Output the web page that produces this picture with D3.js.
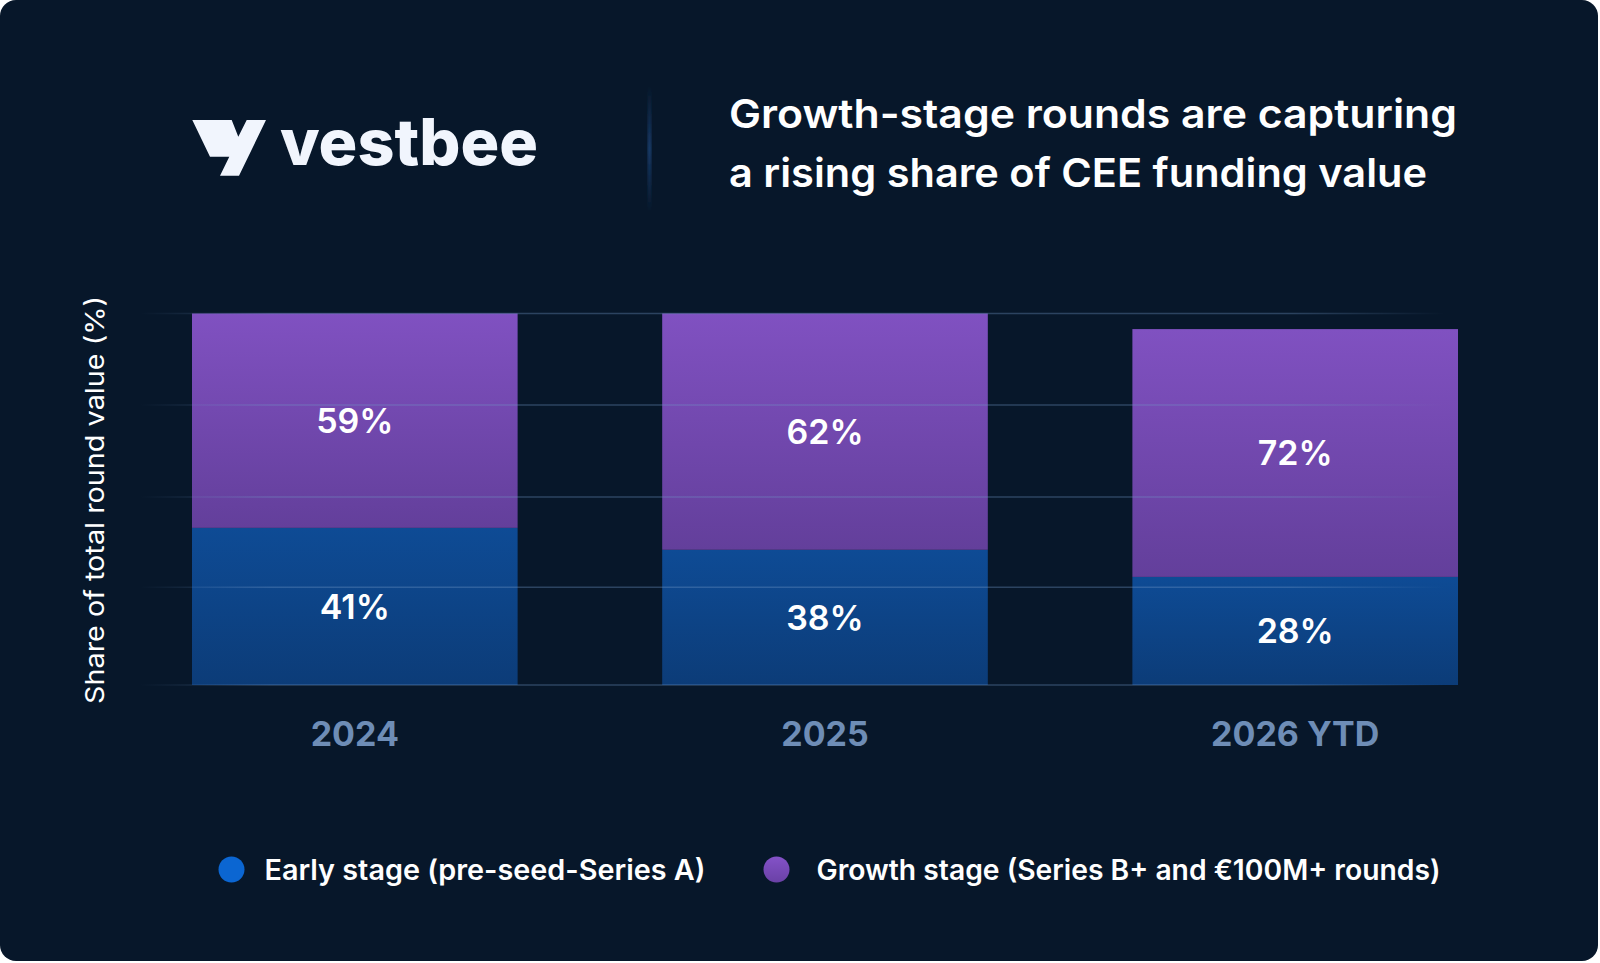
<!DOCTYPE html>
<html>
<head>
<meta charset="utf-8">
<script src="https://cdn.jsdelivr.net/npm/d3@7"></script>
<style>
  html, body { margin: 0; padding: 0; background: #ffffff; }
  svg { display: block; }
</style>
</head>
<body>
<svg id="chart" width="1600" height="963"></svg>
<script>
// ---- data ----
const categories = ["2024", "2025", "2026 YTD"];
const earlyShare = [42.3, 36.4, 29.1];      // bar heights (% of axis)
const growthShare = [57.7, 63.6, 66.7];
const earlyLabels = ["41%", "38%", "28%"];
const growthLabels = ["59%", "62%", "72%"];
const gridValues = [0, 26.3, 50.6, 75.4, 100];
const seriesNames = ["Early stage (pre-seed-Series A)", "Growth stage (Series B+ and €100M+ rounds)"];
const titleLines = ["Growth-stage rounds are capturing", "a rising share of CEE funding value"];
const yAxisTitle = "Share of total round value (%)";

const FONT = "Inter, 'Open Sans', sans-serif";
const svg = d3.select("#chart");
const defs = svg.append("defs");

// gradients
function vGrad(id, top, bottom) {
  const g = defs.append("linearGradient").attr("id", id).attr("x1", 0).attr("y1", 0).attr("x2", 0).attr("y2", 1);
  g.append("stop").attr("offset", "0%").attr("stop-color", top);
  g.append("stop").attr("offset", "100%").attr("stop-color", bottom);
}
vGrad("gPurple", "#8051c1", "#633f9b");
vGrad("gBlue", "#0e4b95", "#0c3c78");
vGrad("gLegPurple", "#8452c8", "#6a41a6");
const gl = defs.append("linearGradient").attr("id", "gGrid").attr("gradientUnits", "userSpaceOnUse")
  .attr("x1", 140).attr("y1", 0).attr("x2", 1445).attr("y2", 0);
gl.append("stop").attr("offset", "0%").attr("stop-color", "#6f95c4").attr("stop-opacity", 0);
gl.append("stop").attr("offset", "10%").attr("stop-color", "#6f95c4").attr("stop-opacity", 0.35);
gl.append("stop").attr("offset", "88%").attr("stop-color", "#6f95c4").attr("stop-opacity", 0.35);
gl.append("stop").attr("offset", "100%").attr("stop-color", "#6f95c4").attr("stop-opacity", 0);
const dv = defs.append("linearGradient").attr("id", "gDiv").attr("x1", 0).attr("y1", 0).attr("x2", 0).attr("y2", 1);
dv.append("stop").attr("offset", "0%").attr("stop-color", "#1e477e").attr("stop-opacity", 0);
dv.append("stop").attr("offset", "50%").attr("stop-color", "#1e477e").attr("stop-opacity", 1);
dv.append("stop").attr("offset", "100%").attr("stop-color", "#1e477e").attr("stop-opacity", 0);
defs.append("filter").attr("id", "blur").append("feGaussianBlur").attr("stdDeviation", 1.5);

// card background
svg.append("rect").attr("x", 0).attr("y", 0).attr("width", 1598).attr("height", 961)
  .attr("rx", 16).attr("fill", "#07172a");

// logo
const icon = [[192.3,120],[231.7,120],[238.3,136.7],[246.7,120],[266,120],[239,175.7],[220,175.7],[229.3,156.7],[210,156.7]];
svg.append("path").attr("d", d3.line()(icon) + "Z").attr("fill", "#f1f5fd");
svg.append("text").attr("x", 280).attr("y", 165).text("vestbee")
  .attr("font-family", FONT).attr("font-weight", 800).attr("font-size", 64)
  .attr("fill", "#f1f5fd").attr("textLength", 258).attr("lengthAdjust", "spacingAndGlyphs");

// divider
svg.append("rect").attr("x", 648).attr("y", 86).attr("width", 3).attr("height", 126)
  .attr("fill", "url(#gDiv)").attr("filter", "url(#blur)");

// title
const titleWidths = [728, 698];
svg.append("g").selectAll("text").data(titleLines).join("text")
  .attr("x", 729).attr("y", (d, i) => 128 + i * 59)
  .text(d => d)
  .attr("font-family", FONT).attr("font-weight", 600).attr("font-size", 40)
  .attr("fill", "#ffffff")
  .attr("textLength", (d, i) => titleWidths[i]).attr("lengthAdjust", "spacingAndGlyphs");

// scales
const x = d3.scaleBand().domain(categories).range([192, 1458]).paddingInner(0.3075).paddingOuter(0);
const y = d3.scaleLinear().domain([0, 100]).range([685, 313.5]);

// stacked data
const rows = categories.map((c, i) => ({ cat: c, early: earlyShare[i], growth: growthShare[i] }));
const stack = d3.stack().keys(["early", "growth"])(rows);
const fills = ["url(#gBlue)", "url(#gPurple)"];
const labelsBySeries = [earlyLabels, growthLabels];

const bars = svg.append("g");
stack.forEach((layer, si) => {
  bars.append("g").selectAll("rect").data(layer).join("rect")
    .attr("x", d => x(d.data.cat))
    .attr("width", x.bandwidth())
    .attr("y", d => y(d[1]))
    .attr("height", d => y(d[0]) - y(d[1]))
    .attr("fill", fills[si]);
});

// gridlines (drawn over bars, faint)
svg.append("g").selectAll("line").data(gridValues).join("line")
  .attr("x1", 140).attr("x2", 1445)
  .attr("y1", d => y(d)).attr("y2", d => y(d))
  .attr("stroke", "url(#gGrid)").attr("stroke-width", 1.5);

// bar value labels
stack.forEach((layer, si) => {
  svg.append("g").selectAll("text").data(layer).join("text")
    .attr("x", d => x(d.data.cat) + x.bandwidth() / 2)
    .attr("y", d => (y(d[0]) + y(d[1])) / 2)
    .attr("dy", "0.36em")
    .attr("text-anchor", "middle")
    .text((d, i) => labelsBySeries[si][i])
    .attr("font-family", FONT).attr("font-weight", 600).attr("font-size", 34)
    .attr("fill", "#ffffff");
});

// x axis labels
const xAxis = d3.axisBottom(x).tickSize(0).tickPadding(0);
const gx = svg.append("g").attr("transform", "translate(0,734)").call(xAxis);
gx.select(".domain").remove();
gx.selectAll("text")
  .attr("dy", "0.36em")
  .attr("font-family", FONT).attr("font-weight", 700).attr("font-size", 34)
  .attr("fill", "#6e8db6");

// y axis title
svg.append("text")
  .attr("transform", "translate(104,500) rotate(-90)")
  .attr("text-anchor", "middle")
  .text(yAxisTitle)
  .attr("font-family", FONT).attr("font-weight", 400).attr("font-size", 26)
  .attr("fill", "#ffffff")
  .attr("textLength", 408).attr("lengthAdjust", "spacingAndGlyphs");

// legend
const legendX = [231.5, 776.5];
const legendTextW = [441, 624];
const legendFill = ["#0b66d2", "url(#gLegPurple)"];
const leg = svg.append("g").selectAll("g").data(seriesNames).join("g")
  .attr("transform", (d, i) => `translate(${legendX[i]},869.5)`);
leg.append("circle").attr("r", 13).attr("fill", (d, i) => legendFill[i]);
leg.append("text").attr("x", (d, i) => i === 0 ? 33 : 40).attr("dy", "0.36em")
  .text(d => d)
  .attr("font-family", FONT).attr("font-weight", 600).attr("font-size", 28)
  .attr("fill", "#ffffff")
  .attr("textLength", (d, i) => legendTextW[i]).attr("lengthAdjust", "spacingAndGlyphs");
</script>
</body>
</html>
